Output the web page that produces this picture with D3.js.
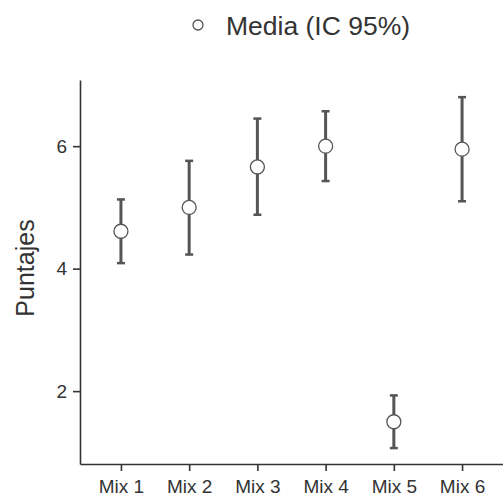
<!DOCTYPE html>
<html>
<head>
<meta charset="utf-8">
<script src="https://cdnjs.cloudflare.com/ajax/libs/d3/7.8.5/d3.min.js"></script>
<style>
  body { margin: 0; background: #fff; }
  svg { font-family: "Liberation Sans", Arial, sans-serif; }
</style>
</head>
<body>
<svg id="chart" width="503" height="502"></svg>
<script>
// values
var mixes = ["Mix 1", "Mix 2", "Mix 3", "Mix 4", "Mix 5", "Mix 6"];
var means = [4.61, 5.00, 5.66, 6.00, 1.50, 5.95];
var lower = [4.09, 4.23, 4.88, 5.43, 1.07, 5.10];
var upper = [5.13, 5.76, 6.45, 6.57, 1.93, 6.80];
var yTicks = [2, 4, 6];

var margin = {top: 80, right: 0, bottom: 38, left: 80},
    width = 503 - margin.left - margin.right,
    height = 502 - margin.top - margin.bottom;

var ink = "#333";

var svg = d3.select("#chart");
var g = svg.append("g")
    .attr("transform", "translate(" + margin.left + "," + margin.top + ")");

var x = d3.scalePoint()
    .domain(mixes)
    .range([0, width])
    .padding(0.6);

var y = d3.scaleLinear()
    .domain([0.81, 7.08])
    .range([height, 0]);

// axes
var yAxis = g.append("g")
    .call(d3.axisLeft(y).tickValues(yTicks).tickFormat(d3.format("d"))
        .tickSize(7).tickPadding(6).tickSizeOuter(0));
var xAxis = g.append("g")
    .attr("transform", "translate(0," + height + ")")
    .call(d3.axisBottom(x).tickSize(7).tickPadding(9).tickSizeOuter(0));

[xAxis, yAxis].forEach(function(a) {
    a.attr("font-family", null).attr("font-size", null);
    a.selectAll("path, line").attr("stroke", ink).attr("stroke-width", 1.6);
    a.selectAll("text").attr("fill", ink).style("font-size", "19px");
});

g.append("text")
    .attr("transform", "translate(" + (-46) + "," + (188) + ") rotate(-90)")
    .attr("text-anchor", "middle")
    .attr("fill", ink)
    .style("font-size", "25px")
    .text("Puntajes");

// error bars
var data = mixes.map(function(m, i) {
    return {mix: m, mean: means[i], lo: lower[i], hi: upper[i]};
});

var bars = g.append("g").selectAll("g")
    .data(data)
    .enter()
    .append("g");

bars.append("line")
    .attr("x1", function(d) { return x(d.mix); })
    .attr("x2", function(d) { return x(d.mix); })
    .attr("y1", function(d) { return y(d.lo); })
    .attr("y2", function(d) { return y(d.hi); })
    .attr("stroke", "#555")
    .attr("stroke-width", 3);

bars.selectAll(".cap")
    .data(function(d) { return [d.lo, d.hi].map(function(v) { return {mix: d.mix, v: v}; }); })
    .enter()
    .append("line")
    .attr("class", "cap")
    .attr("x1", function(d) { return x(d.mix) - 4; })
    .attr("x2", function(d) { return x(d.mix) + 4; })
    .attr("y1", function(d) { return y(d.v); })
    .attr("y2", function(d) { return y(d.v); })
    .attr("stroke", "#555")
    .attr("stroke-width", 2.5);

bars.append("circle")
    .attr("cx", function(d) { return x(d.mix); })
    .attr("cy", function(d) { return y(d.mean); })
    .attr("r", 7)
    .attr("fill", "#fff")
    .attr("stroke", "#555")
    .attr("stroke-width", 1.3);

// legend
var legend = svg.append("g");
legend.append("circle")
    .attr("cx", 198)
    .attr("cy", 25)
    .attr("r", 5)
    .attr("fill", "#fff")
    .attr("stroke", "#555")
    .attr("stroke-width", 1.3);
legend.append("text")
    .attr("x", 226)
    .attr("y", 35)
    .attr("fill", ink)
    .style("font-size", "26.5px")
    .text("Media (IC 95%)");
</script>
</body>
</html>
